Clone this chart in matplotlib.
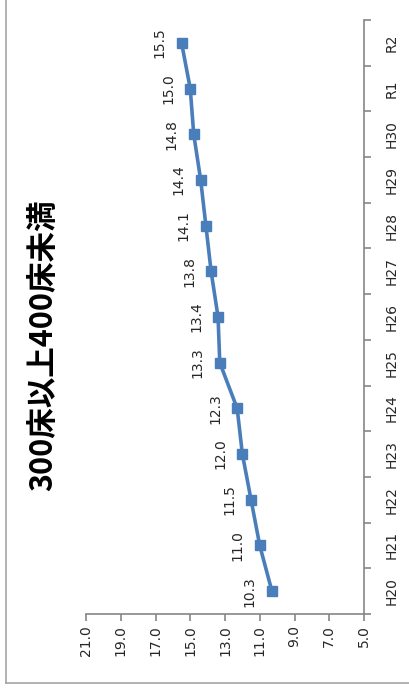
import matplotlib
matplotlib.use("Agg")
import matplotlib.pyplot as plt
from matplotlib.lines import Line2D
import numpy as np

categories = ["H20", "H21", "H22", "H23", "H24", "H25", "H26", "H27", "H28", "H29", "H30", "R1", "R2"]
values = [10.3, 11.0, 11.5, 12.0, 12.3, 13.3, 13.4, 13.8, 14.1, 14.4, 14.8, 15.0, 15.5]
value_ticks = [21.0, 19.0, 17.0, 15.0, 13.0, 11.0, 9.0, 7.0, 5.0]
title = "300床以上400床未満"

W, H = 409, 698
fig = plt.figure(figsize=(W / 100, H / 100), dpi=100)
fig.patch.set_facecolor("white")

# outer chart border (left and bottom visible)
fig.add_artist(Line2D([6 / W, 6 / W], [1.0, 1 - 683 / H], transform=fig.transFigure, color="#a6a6a6", lw=1.2))
fig.add_artist(Line2D([6 / W, 1.0], [1 - 683 / H, 1 - 683 / H], transform=fig.transFigure, color="#a6a6a6", lw=1.2))

left, right, top, bottom = 86, 364, 20, 614
ax = fig.add_axes([left / W, 1 - bottom / H, (right - left) / W, (bottom - top) / H])
ax.set_facecolor("none")

pos = np.arange(len(categories))
blue = "#4a7ebb"
ax.plot(values, pos, color=blue, lw=2.6, marker="s", markersize=7, markerfacecolor=blue, markeredgecolor=blue, clip_on=False)

for v, p in zip(values, pos):
    ax.annotate(f"{v:.1f}", (v, p), xytext=(-22, 0), textcoords="offset pixels",
                rotation=90, ha="center", va="center", fontsize=10, color="#262626")

ax.set_xlim(21, 5)
ax.set_ylim(-0.5, len(categories) - 0.5)

for s in ["left", "top"]:
    ax.spines[s].set_visible(False)
for s in ["bottom", "right"]:
    ax.spines[s].set_color("#868686")
    ax.spines[s].set_linewidth(1.2)

ax.set_xticks(value_ticks)
ax.set_xticklabels([f"{t:.1f}" for t in value_ticks], rotation=90, fontsize=10, color="#262626")
ax.tick_params(axis="x", direction="out", length=5, color="#868686", width=1.2, pad=3)

ax.yaxis.tick_right()
ax.set_yticks(pos)
ax.set_yticklabels(categories, rotation=90, va="center", fontsize=10, color="#262626")
ax.set_yticks(np.arange(-0.5, len(categories)), minor=True)
ax.tick_params(axis="y", which="major", length=0, pad=15)
ax.tick_params(axis="y", which="minor", direction="out", length=5, color="#868686", width=1.2)

fig.text(43 / W, 1 - 345 / H, title, rotation=90, ha="center", va="center",
         fontsize=22, fontweight="bold", family=["Noto Sans CJK JP", "DejaVu Sans"], color="#000000")

fig.savefig("out.png", dpi=100)
